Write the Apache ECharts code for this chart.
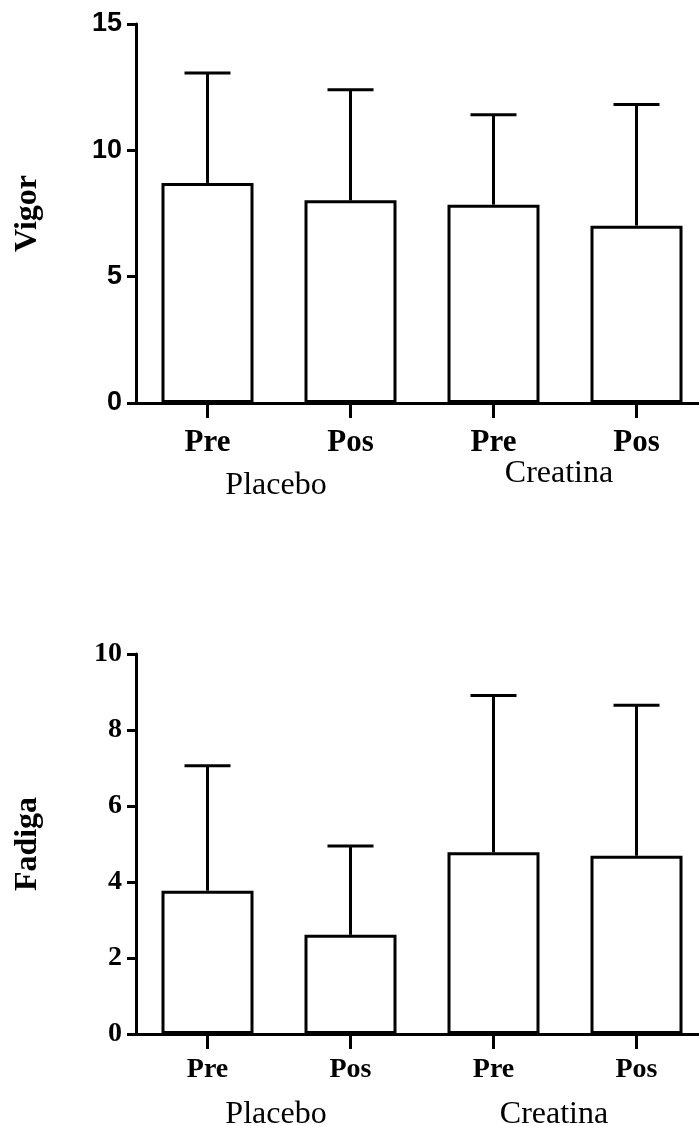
<!DOCTYPE html>
<html>
<head>
<meta charset="utf-8">
<script src="https://cdn.jsdelivr.net/npm/echarts@6/dist/echarts.min.js"></script>
<style>
  html, body { margin: 0; padding: 0; background: #fff; overflow: hidden; }
  #chart { width: 712px; height: 1126px; }
</style>
</head>
<body>
<div id="chart"></div>
<script>
// Tick labels of the bar axis and the group labels beneath them
const phases = ['Pre', 'Pos', 'Pre', 'Pos'];
const groups = ['Placebo', 'Creatina'];

// Vigor: means and standard deviations
const vigorMean = [8.71, 8.02, 7.85, 7.02];
const vigorSD = [4.35, 4.38, 3.56, 4.79];

// Fadiga: means and standard deviations
const fadigaMean = [3.77, 2.61, 4.78, 4.69];
const fadigaSD = [3.29, 2.34, 4.13, 3.96];

const SERIF = '"Liberation Serif", "Times New Roman", serif';
const SANS = '"Liberation Sans", Arial, sans-serif';

function errorData(mean, sd) {
  return mean.map((m, i) => [i, m, sd[i]]);
}

// Upper-only error bar: stem from the bar top plus a cap
function renderError(params, api) {
  const x = api.value(0), m = api.value(1), s = api.value(2);
  const p0 = api.coord([x, m]);
  const p1 = api.coord([x, m + s]);
  const half = 23;
  const st = { stroke: '#000', lineWidth: 3 };
  return {
    type: 'group',
    children: [
      { type: 'line', shape: { x1: p0[0], y1: p0[1], x2: p1[0], y2: p1[1] }, style: st },
      { type: 'line', shape: { x1: p1[0] - half, y1: p1[1], x2: p1[0] + half, y2: p1[1] }, style: st }
    ]
  };
}

const axisLine = { show: true, lineStyle: { color: '#000', width: 3 } };
const tick = { show: true, alignWithLabel: true, inside: false, length: 15, lineStyle: { color: '#000', width: 3 } };

const chart = echarts.init(document.getElementById('chart'));
chart.setOption({
  animation: false,
  backgroundColor: '#fff',
  grid: [
    { left: 136, top: 24, width: 572, height: 379, outerBoundsMode: 'none' },
    { left: 136, top: 654, width: 572, height: 380, outerBoundsMode: 'none' }
  ],
  xAxis: [
    {
      gridIndex: 0, type: 'category', data: phases,
      axisLine: axisLine, axisTick: tick,
      axisLabel: { margin: 24, color: '#000', fontFamily: SERIF, fontWeight: 'bold', fontSize: 31 },
      splitLine: { show: false }
    },
    {
      gridIndex: 0, type: 'category', position: 'bottom', offset: 55,
      data: [
        { value: groups[0], textStyle: { padding: [12, 6, 0, 0] } },
        { value: groups[1], textStyle: { padding: [0, 12, 0, 0] } }
      ],
      axisLine: { show: false }, axisTick: { show: false },
      axisLabel: { margin: 0, color: '#000', fontFamily: SERIF, fontSize: 32 },
      splitLine: { show: false }
    },
    {
      gridIndex: 1, type: 'category', data: phases,
      axisLine: axisLine, axisTick: tick,
      axisLabel: { margin: 22, color: '#000', fontFamily: SERIF, fontWeight: 'bold', fontSize: 28 },
      splitLine: { show: false }
    },
    {
      gridIndex: 1, type: 'category', position: 'bottom', offset: 65,
      data: [
        { value: groups[0], textStyle: { padding: [0, 6, 0, 0] } },
        { value: groups[1], textStyle: { padding: [0, 22, 0, 0] } }
      ],
      axisLine: { show: false }, axisTick: { show: false },
      axisLabel: { margin: 0, color: '#000', fontFamily: SERIF, fontSize: 32 },
      splitLine: { show: false }
    }
  ],
  yAxis: [
    {
      gridIndex: 0, type: 'value', min: 0, max: 15, interval: 5,
      name: 'Vigor', nameLocation: 'middle', nameRotate: 90, nameGap: 92,
      nameTextStyle: { color: '#000', fontFamily: SERIF, fontWeight: 'bold', fontSize: 32 },
      axisLine: axisLine,
      axisTick: { show: true, length: 9, lineStyle: { color: '#000', width: 3 } },
      axisLabel: { margin: 14, color: '#000', fontFamily: SANS, fontWeight: 'bold', fontSize: 27 },
      splitLine: { show: false }
    },
    {
      gridIndex: 1, type: 'value', min: 0, max: 10, interval: 2,
      name: 'Fadiga', nameLocation: 'middle', nameRotate: 90, nameGap: 92,
      nameTextStyle: { color: '#000', fontFamily: SERIF, fontWeight: 'bold', fontSize: 32 },
      axisLine: axisLine,
      axisTick: { show: true, length: 9, lineStyle: { color: '#000', width: 3 } },
      axisLabel: { margin: 14, color: '#000', fontFamily: SERIF, fontWeight: 'bold', fontSize: 28 },
      splitLine: { show: false }
    }
  ],
  series: [
    {
      type: 'bar', xAxisIndex: 0, yAxisIndex: 0, data: vigorMean, barWidth: 92,
      itemStyle: { color: '#fff', borderColor: '#000', borderWidth: 3 }, z: 2
    },
    {
      type: 'custom', xAxisIndex: 0, yAxisIndex: 0, data: errorData(vigorMean, vigorSD),
      renderItem: renderError, encode: { x: 0, y: 1 }, z: 3
    },
    {
      type: 'bar', xAxisIndex: 2, yAxisIndex: 1, data: fadigaMean, barWidth: 92,
      itemStyle: { color: '#fff', borderColor: '#000', borderWidth: 3 }, z: 2
    },
    {
      type: 'custom', xAxisIndex: 2, yAxisIndex: 1, data: errorData(fadigaMean, fadigaSD),
      renderItem: renderError, encode: { x: 0, y: 1 }, z: 3
    }
  ]
});
</script>
</body>
</html>
